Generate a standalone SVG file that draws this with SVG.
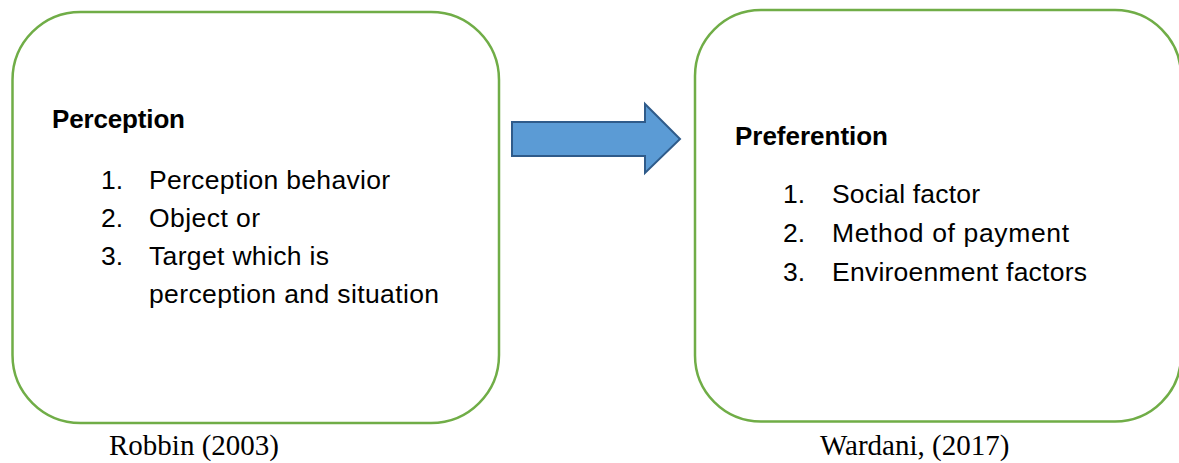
<svg xmlns="http://www.w3.org/2000/svg" width="1179" height="463" viewBox="0 0 1179 463">
<style>
.box{fill:#fff;stroke:#70AD47;stroke-width:2.5}
.h{font-family:"Liberation Sans",Arial,sans-serif;font-weight:bold;font-size:26px;fill:#000}
.t{font-family:"Liberation Sans",Arial,sans-serif;font-size:26.5px;fill:#000}
.c{font-family:"Liberation Serif","Times New Roman",serif;font-size:29px;fill:#000}
.arrow{fill:#5B9BD5;stroke:#2F5B8A;stroke-width:2;stroke-linejoin:miter}
</style>
<rect width="1179" height="463" fill="#fff"/>
<g id="perception">
<rect class="box" x="12.5" y="12" width="486.5" height="411" rx="68" ry="68"/>
<text class="h" x="52" y="128" textLength="133" lengthAdjust="spacing">Perception</text>
<text class="t" x="101" y="189">1.</text><text class="t" x="149" y="189" textLength="241" lengthAdjust="spacing">Perception behavior</text>
<text class="t" x="101" y="227">2.</text><text class="t" x="149" y="227" textLength="111" lengthAdjust="spacing">Object or</text>
<text class="t" x="101" y="265">3.</text><text class="t" x="149" y="265" textLength="180" lengthAdjust="spacing">Target which is</text>
<text class="t" x="149" y="303" textLength="290" lengthAdjust="spacing">perception and situation</text>
</g>
<g id="preferention">
<rect class="box" x="695" y="10" width="486" height="411.5" rx="66" ry="66"/>
<text class="h" x="735" y="145" textLength="153" lengthAdjust="spacing">Preferention</text>
<text class="t" x="783" y="203">1.</text><text class="t" x="832" y="203" textLength="148" lengthAdjust="spacing">Social factor</text>
<text class="t" x="783" y="242">2.</text><text class="t" x="832" y="242" textLength="237" lengthAdjust="spacing">Method of payment</text>
<text class="t" x="783" y="281">3.</text><text class="t" x="832" y="281" textLength="255" lengthAdjust="spacing">Enviroenment factors</text>
</g>
<g id="connectors">
<polygon class="arrow" points="512,122 645,122 645,104 680,139 645,173 645,156 512,156"/>
</g>
<g id="captions">
<text class="c" x="109" y="455">Robbin (2003)</text>
<text class="c" x="820" y="455">Wardani, (2017)</text>
</g>
</svg>
